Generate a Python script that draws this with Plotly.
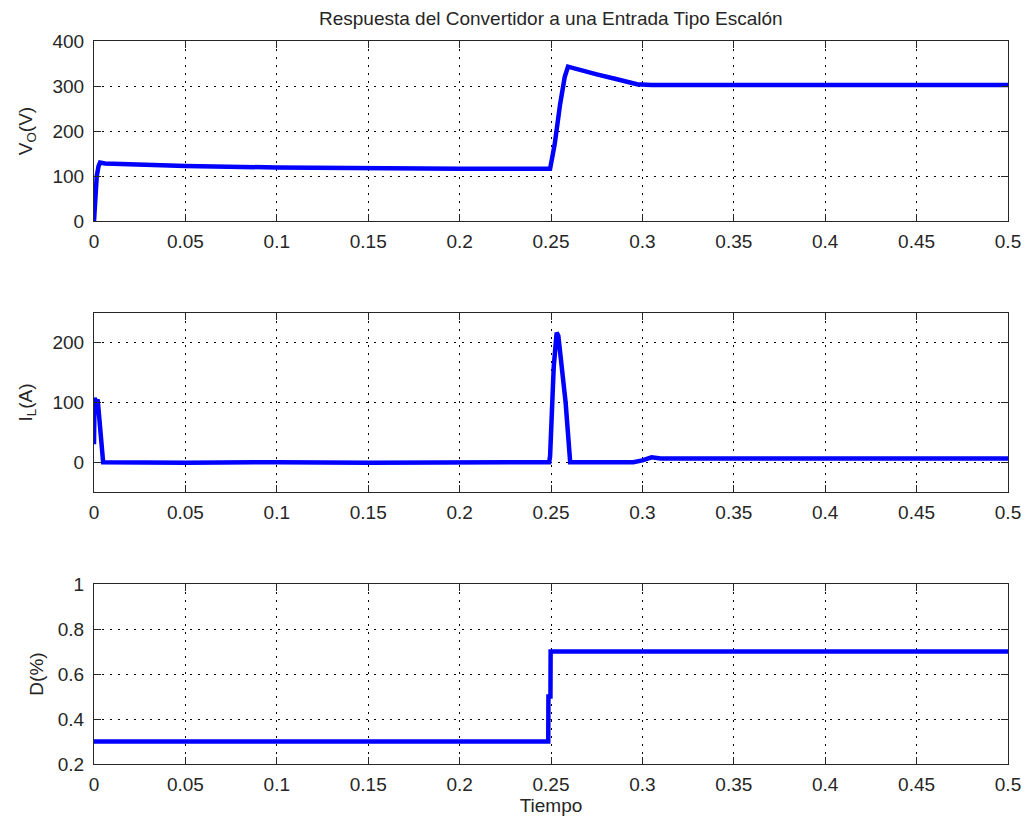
import plotly.graph_objects as go

# ---- data ----
t_vo = [0, 0.0008, 0.0015, 0.0025, 0.0033, 0.006, 0.02, 0.05, 0.1, 0.15, 0.2, 0.2495,
        0.252, 0.255, 0.2575, 0.2593, 0.265, 0.275, 0.285, 0.297, 0.305, 0.35, 0.4, 0.45, 0.5]
vo = [0, 60, 100, 122, 130, 128, 126, 122, 119, 117, 116, 116,
      170, 260, 320, 343, 336, 326, 316, 304, 302, 302, 302, 302, 302]

t_il = [0, 0.0003, 0.0008, 0.002, 0.0026, 0.0045, 0.005, 0.05, 0.1, 0.15, 0.2, 0.249,
        0.2495, 0.2515, 0.2531, 0.254, 0.258, 0.2605, 0.28, 0.295, 0.3, 0.305, 0.31, 0.35, 0.5]
il = [30, 108, 100, 105, 80, 10, 0, -1, 0, -1, 0, 0,
      10, 160, 217, 212, 100, 0, 0, 0, 3, 8, 6, 6, 6]

t_d = [0, 0.2485, 0.2486, 0.2497, 0.2498, 0.5]
d = [0.3, 0.3, 0.5, 0.5, 0.7, 0.7]

x_ticks = [0, 0.05, 0.1, 0.15, 0.2, 0.25, 0.3, 0.35, 0.4, 0.45, 0.5]
x_ticklabels = ["0", "0.05", "0.1", "0.15", "0.2", "0.25", "0.3", "0.35", "0.4", "0.45", "0.5"]
y1_ticks = [0, 100, 200, 300, 400]
y2_ticks = [0, 100, 200]
y3_ticks = [0.2, 0.4, 0.6, 0.8, 1]
y3_ticklabels = ["0.2", "0.4", "0.6", "0.8", "1"]

title = "Respuesta del Convertidor a una Entrada Tipo Escalón"
FONT = "Liberation Sans, Arial, sans-serif"
BLUE = "#0000FF"
AX = "#262626"
FS = 19

fig = go.Figure()
fig.add_trace(go.Scatter(x=t_vo, y=vo, mode="lines", line=dict(color=BLUE, width=4.5),
                         xaxis="x", yaxis="y", showlegend=False))
fig.add_trace(go.Scatter(x=t_il, y=il, mode="lines", line=dict(color=BLUE, width=4.5),
                         xaxis="x2", yaxis="y2", showlegend=False))
fig.add_trace(go.Scatter(x=t_d, y=d, mode="lines", line=dict(color=BLUE, width=4.5),
                         xaxis="x3", yaxis="y3", showlegend=False))

# plot area spans x 94..1008, y 41..764 on screen (body margin removed)
H = 723.0
def dom(top_px, bot_px):
    return [(764 - bot_px) / H, (764 - top_px) / H]

GRID = dict(showgrid=True, gridcolor="#000000", gridwidth=1, griddash="2px,6px")
common_x = dict(range=[0, 0.5], tickvals=x_ticks, ticktext=x_ticklabels,
                showline=True, linecolor=AX, linewidth=1, mirror="ticks",
                ticks="inside", ticklen=7, tickcolor=AX, ticklabelstandoff=3,
                zeroline=False, tickfont=dict(family=FONT, size=FS, color=AX), **GRID)
common_y = dict(showline=True, linecolor=AX, linewidth=1, mirror="ticks",
                ticks="inside", ticklen=7, tickcolor=AX, ticklabelstandoff=5,
                zeroline=False, tickfont=dict(family=FONT, size=FS, color=AX), **GRID)

fig.update_layout(
    width=1026, height=823,
    margin=dict(l=94, r=18, t=41, b=59, autoexpand=False),
    paper_bgcolor="white", plot_bgcolor="white",
    font=dict(family=FONT, color=AX),
    xaxis=dict(common_x, domain=[0, 1], anchor="y"),
    yaxis=dict(common_y, domain=dom(41, 221), range=[0, 400], tickvals=y1_ticks,
               title=dict(text="V<sub>O</sub>(V)", font=dict(size=FS), standoff=14)),
    xaxis2=dict(common_x, domain=[0, 1], anchor="y2"),
    yaxis2=dict(common_y, domain=dom(313, 492), range=[-50, 250], tickvals=y2_ticks,
                title=dict(text="I<sub>L</sub>(A)", font=dict(size=FS), standoff=14)),
    xaxis3=dict(common_x, domain=[0, 1], anchor="y3",
                title=dict(text="Tiempo", font=dict(size=FS), standoff=2)),
    yaxis3=dict(common_y, domain=dom(584, 764), range=[0.2, 1], tickvals=y3_ticks,
                ticktext=y3_ticklabels,
                title=dict(text="D(%)", font=dict(size=FS), standoff=9)),
    annotations=[dict(text=title, xref="paper", yref="paper", x=0.5, y=1,
                      xanchor="center", yanchor="bottom", yshift=10, showarrow=False,
                      font=dict(family=FONT, size=FS, color=AX))],
)

fig.write_html("out.html", config={"displayModeBar": False},
               post_script="document.body.style.margin='0px';")
